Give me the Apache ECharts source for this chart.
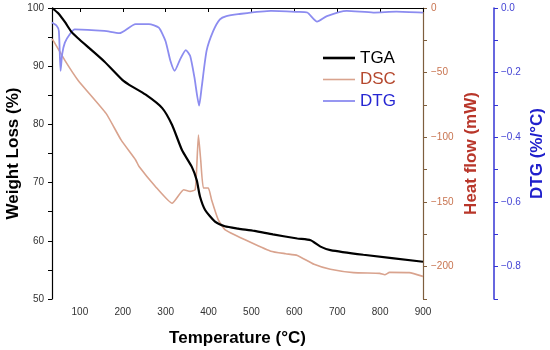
<!DOCTYPE html>
<html>
<head>
<meta charset="utf-8">
<script src="https://cdn.jsdelivr.net/npm/echarts@6/dist/echarts.min.js"></script>
<style>
html,body{margin:0;padding:0;background:#fff;}
#chart{width:550px;height:350px;}
</style>
</head>
<body>
<div id="chart"></div>
<script>
// ---- data ----
var xTickLabels = [100, 200, 300, 400, 500, 600, 700, 800, 900];

var tgaTemp   = [35, 49.5, 65, 80.4, 95.7, 126.6, 157, 199.5, 215, 253.5, 292, 315, 338, 361, 372.5, 380, 392, 415, 438, 469, 507, 550, 607, 638, 661, 684, 761, 900];
var tgaWeight = [100, 99.1, 97.6, 95.9, 94.8, 92.8, 90.8, 87.6, 86.8, 85.1, 82.8, 79.9, 75.6, 72.7, 70.4, 67.6, 65.3, 63.3, 62.5, 62.1, 61.7, 61.1, 60.4, 60.1, 59.0, 58.4, 57.6, 56.4];

var dscTemp = [35, 38, 65, 96, 161, 196, 230, 238, 276, 315, 342, 357, 368.8, 372.5, 376.4, 381.7, 388, 399.5, 407, 422.5, 438, 484, 545, 580, 607, 646, 684, 738, 799, 811, 822, 868, 900];
var dscHeat = [-24, -25.2, -40.5, -56, -81.5, -102, -117.5, -122.6, -138, -151, -140.5, -141.8, -140.5, -122.6, -98.2, -117.5, -139.2, -139.2, -148.2, -163.6, -171.3, -179, -188, -190, -191.3, -198.2, -202, -204.6, -205.2, -206.3, -204.4, -204.6, -207.5];

var dtgTemp = [35, 45.8, 51, 55, 58.8, 65, 76.5, 88, 157, 192, 230, 261, 284, 299.6, 311, 321, 334, 347, 357, 367, 378, 384, 395.5, 411, 426.5, 441.7, 469, 545.5, 607, 630, 653, 676, 722, 784, 838, 900];
var dtgRate = [-0.045, -0.055, -0.071, -0.194, -0.142, -0.107, -0.081, -0.066, -0.071, -0.078, -0.050, -0.050, -0.061, -0.102, -0.163, -0.194, -0.158, -0.130, -0.148, -0.214, -0.302, -0.245, -0.132, -0.071, -0.035, -0.025, -0.019, -0.009, -0.012, -0.014, -0.042, -0.025, -0.009, -0.014, -0.011, -0.014];

var seriesNames = ['TGA', 'DSC', 'DTG'];

function pairs(xs, ys) { return xs.map(function (x, i) { return [x, ys[i]]; }); }
function minus(s) { return String(s).replace('-', '\u2212'); }

var labelFont = 'Liberation Sans';
var nameFont = 'Liberation Sans';

var chart = echarts.init(document.getElementById('chart'), null, {renderer: 'canvas'});
chart.setOption({
  animation: false,
  backgroundColor: '#fff',
  grid: {left: 52, right: 127, top: 8, bottom: 51, containLabel: false, outerBoundsMode: 'none'},
  legend: {
    orient: 'vertical',
    left: 318,
    top: 44,
    itemWidth: 32,
    itemHeight: 14,
    itemGap: 3.5,
    symbolKeepAspect: true,
    textStyle: {fontSize: 17, fontFamily: nameFont, lineHeight: 18},
    data: [
      {name: 'TGA', icon: 'path://M0,0h32v2.6h-32z', textStyle: {color: '#000000'}},
      {name: 'DSC', icon: 'path://M0,0h32v1.6h-32z', textStyle: {color: '#b5482e'}},
      {name: 'DTG', icon: 'path://M0,0h32v1.8h-32z', textStyle: {color: '#2626d2'}}
    ]
  },
  xAxis: [{
    type: 'value',
    min: 35, max: 900,
    name: 'Temperature (\u00B0C)',
    nameLocation: 'middle',
    nameGap: 31,
    nameMoveOverlap: false,
    nameTextStyle: {fontSize: 17, fontWeight: 'bold', fontFamily: nameFont, color: '#000'},
    axisLine: {show: true, lineStyle: {color: '#000', width: 1.2}},
    axisTick: {show: true, length: 4, customValues: xTickLabels, lineStyle: {color: '#000'}},
    axisLabel: {customValues: xTickLabels, fontSize: 10, fontFamily: labelFont, color: '#333', margin: 8},
    splitLine: {show: false}
  }, {
    type: 'value',
    position: 'top',
    min: 35, max: 900,
    axisLine: {show: true, lineStyle: {color: '#000', width: 1.2}},
    axisTick: {show: false},
    axisLabel: {show: false},
    splitLine: {show: false}
  }],
  yAxis: [{
    type: 'value',
    position: 'left',
    min: 50, max: 100, interval: 5,
    name: 'Weight Loss (%)',
    nameLocation: 'middle',
    nameRotate: 90,
    nameGap: 30,
    nameMoveOverlap: false,
    nameTextStyle: {fontSize: 17, fontWeight: 'bold', fontFamily: nameFont, color: '#000'},
    axisLine: {show: true, lineStyle: {color: '#000', width: 1.2}},
    axisTick: {show: true, length: 4, lineStyle: {color: '#000'}},
    axisLabel: {
      fontSize: 10, fontFamily: labelFont, color: '#333', margin: 8,
      formatter: function (v) { return (Math.round(v) % 10 === 0) ? String(Math.round(v)) : ''; }
    },
    splitLine: {show: false}
  }, {
    type: 'value',
    position: 'right',
    min: -225, max: 0, interval: 25,
    name: 'Heat flow (mW)',
    nameLocation: 'middle',
    nameRotate: 90,
    nameGap: 40,
    nameMoveOverlap: false,
    nameTextStyle: {fontSize: 17, fontWeight: 'bold', fontFamily: nameFont, color: '#b8362a'},
    axisLine: {show: true, lineStyle: {color: '#7e5e3e', width: 1.2}},
    axisTick: {show: true, length: 4, inside: false, lineStyle: {color: '#7e5e3e'}},
    axisLabel: {
      fontSize: 10, fontFamily: labelFont, color: '#c87450', margin: 8,
      formatter: function (v) { var r = Math.round(v); return (r % 50 === 0) ? minus(r) : ''; }
    },
    splitLine: {show: false}
  }, {
    type: 'value',
    position: 'right',
    offset: 71,
    min: -0.9, max: 0, interval: 0.1,
    name: 'DTG (%/\u00B0C)',
    nameLocation: 'middle',
    nameRotate: 90,
    nameGap: 35,
    nameMoveOverlap: false,
    nameTextStyle: {fontSize: 17, fontWeight: 'bold', fontFamily: nameFont, color: '#2020cc'},
    axisLine: {show: true, lineStyle: {color: '#3434d4', width: 1.5}},
    axisTick: {show: true, length: 4, lineStyle: {color: '#3434d4'}},
    axisLabel: {
      fontSize: 10, fontFamily: labelFont, color: '#4444d4', margin: 7,
      formatter: function (v) { var r = Math.round(v * 10); return (r % 2 === 0) ? minus((r / 10).toFixed(1)) : ''; }
    },
    splitLine: {show: false}
  }],
  series: [{
    name: seriesNames[0],
    type: 'line',
    xAxisIndex: 0, yAxisIndex: 0,
    showSymbol: false, symbol: 'none',
    smooth: 0.2,
    data: pairs(tgaTemp, tgaWeight),
    lineStyle: {color: '#000000', width: 2.2},
    itemStyle: {color: '#000000'},
    z: 5
  }, {
    name: seriesNames[1],
    type: 'line',
    xAxisIndex: 0, yAxisIndex: 1,
    showSymbol: false, symbol: 'none',
    smooth: 0.15,
    data: pairs(dscTemp, dscHeat),
    lineStyle: {color: '#d9a38e', width: 1.6},
    itemStyle: {color: '#d9a38e'},
    z: 3
  }, {
    name: seriesNames[2],
    type: 'line',
    xAxisIndex: 0, yAxisIndex: 2,
    showSymbol: false, symbol: 'none',
    smooth: 0.2,
    data: pairs(dtgTemp, dtgRate),
    lineStyle: {color: '#8c8cf0', width: 1.8},
    itemStyle: {color: '#8c8cf0'},
    z: 4
  }]
});
</script>
</body>
</html>
